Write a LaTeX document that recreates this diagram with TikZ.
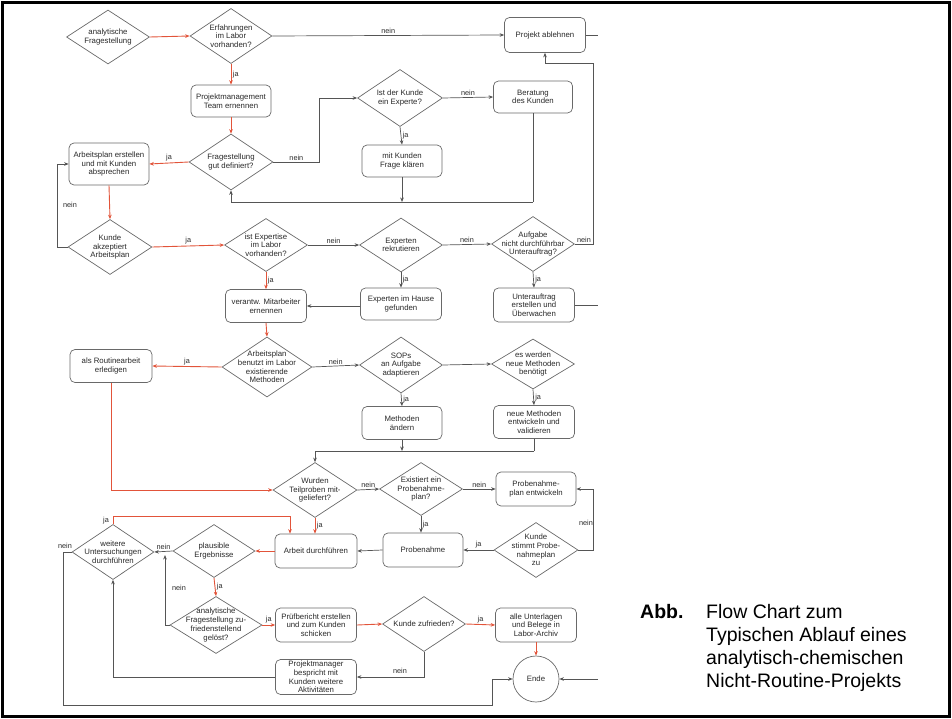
\documentclass[tikz,border=0pt]{standalone}
\usepackage{fontspec}
\setmainfont{Liberation Sans}
\usetikzlibrary{shapes.geometric,arrows.meta}
\definecolor{fred}{RGB}{226,84,58}
\definecolor{lc}{RGB}{85,85,85}
\definecolor{bc}{RGB}{105,105,105}
\definecolor{tc}{RGB}{40,40,40}
\newcommand\fs{\fontsize{7.8}{8.7}\selectfont}
\newcommand\lf{\fontsize{7.3}{8}\selectfont}
\newcommand\capf{\fontsize{19.5}{23}\selectfont}
\newcommand\dn[6]{\node[dia, minimum width=#4pt, minimum height=#5pt, label={[dtxt]center:{#6}}] (#1) at (#2,#3) {};}
\begin{document}
\begin{tikzpicture}[x=1pt,y=-1pt,
 >={Stealth[length=4.5pt,width=3.6pt]},
 box/.style={draw=bc, line width=0.7pt, rounded corners=5pt, minimum width=81pt, minimum height=34pt, inner sep=1pt, align=center, font=\fs, text=tc},
 dia/.style={diamond, draw=bc, line width=0.7pt, inner sep=0pt},
 dtxt/.style={align=center, font=\fs, inner sep=0pt, text=tc},
 rl/.style={draw=fred, line width=0.9pt},
 bl/.style={draw=lc, line width=0.7pt},
 lab/.style={font=\lf, inner sep=1.5pt, text=tc},
]
\useasboundingbox (0,0) rectangle (952,719);
\draw[line width=3pt] (2.5,2.5) rectangle (949.5,716.5);

% diamonds
\dn{d1}{108}{37}{83}{54}{analytische\\Fragestellung}
\dn{d2}{231}{36}{82}{55}{Erfahrungen\\im Labor\\vorhanden?}
\dn{d3}{231}{162}{84}{56}{Fragestellung\\gut definiert?}
\dn{d4}{400}{98}{85}{57}{Ist der Kunde\\ein Experte?}
\dn{d5}{110}{247}{84}{55}{Kunde\\akzeptiert\\Arbeitsplan}
\dn{d6}{266}{245}{83}{53}{ist Expertise\\im Labor\\vorhanden?}
\dn{d7}{401}{245}{83}{54}{Experten\\rekrutieren}
\dn{d8}{533}{244}{83}{55}{Aufgabe\\nicht durchführbar\\Unterauftrag?}
\dn{d9}{267}{367}{90}{60}{Arbeitsplan\\benutzt im Labor\\existierende\\Methoden}
\dn{d10}{401}{365}{83}{56}{SOPs\\an Aufgabe\\adaptieren}
\dn{d11}{533}{364}{83}{50}{es werden\\neue Methoden\\benötigt}
\dn{d12}{315}{490}{84}{55}{Wurden\\Teilproben mit-\\geliefert?}
\dn{d13}{421}{489}{83}{53}{Existiert ein\\Probenahme-\\plan?}
\dn{d14}{536}{550}{84}{55}{Kunde\\stimmt Probe-\\nahmeplan\\zu}
\dn{d15}{214}{551}{82}{53}{plausible\\Ergebnisse}
\dn{d16}{113}{552}{82}{55}{weitere\\Untersuchungen\\durchführen}
\dn{d17}{216}{625}{92}{57}{analytische\\Fragestellung zu-\\friedenstellend\\gelöst?}
\dn{d18}{424}{624}{83}{55}{Kunde zufrieden?}

% boxes
\node[box, minimum height=35pt] (b1) at (545,35) {Projekt ablehnen};
\node[box, minimum width=80pt, minimum height=32pt] (b2) at (231,101) {Projektmanagement\\Team ernennen};
\node[box, minimum width=80pt, minimum height=42pt] (b3) at (109,164) {Arbeitsplan erstellen\\und mit Kunden\\absprechen};
\node[box, minimum width=79pt, minimum height=32pt] (b4) at (533,97) {Beratung\\des Kunden};
\node[box, minimum width=80pt, minimum height=32pt] (b5) at (402,161) {mit Kunden\\Frage klären};
\node[box, minimum height=32pt] (b6) at (401,304) {Experten im Hause\\gefunden};
\node[box] (b7) at (534,305) {Unterauftrag\\erstellen und\\Überwachen};
\node[box, minimum height=33pt] (b8) at (266,306) {verantw. Mitarbeiter\\ernennen};
\node[box, minimum width=82pt, minimum height=33pt] (b9) at (111,366) {als Routinearbeit\\erledigen};
\node[box, minimum width=80pt, minimum height=33pt] (b10) at (402,423) {Methoden\\ändern};
\node[box, minimum height=33pt] (b11) at (534,422) {neue Methoden\\entwickeln und\\validieren};
\node[box, minimum width=80pt] (b12) at (536,489) {Probenahme-\\plan entwickeln};
\node[box, minimum width=80pt] (b13) at (423,550) {Probenahme};
\node[box, minimum width=82pt] (b14) at (316,551) {Arbeit durchführen};
\node[box] (b15) at (316,625) {Prüfbericht erstellen\\und zum Kunden\\schicken};
\node[box] (b16) at (536,625) {alle Unterlagen\\und Belege in\\Labor-Archiv};
\node[box, minimum height=35pt] (b17) at (316,677) {Projektmanager\\bespricht mit\\Kunden weitere\\Aktivitäten};
\node[circle, draw=bc, line width=0.7pt, minimum size=46pt, inner sep=0pt, font=\fs, text=tc] (ende) at (536,679) {Ende};

% helper coordinates
\coordinate (j1) at (533,202);
\coordinate (j2) at (534,451);
\coordinate (j3) at (290,516);
\coordinate (j4) at (165,555);
\coordinate (j5) at (63,705);
\coordinate (j6) at (492,705);
\coordinate (r1) at (593,244);
\coordinate (r2) at (593,63);
\coordinate (s1) at (598,35);

% red connectors
\draw[rl,->] (d1.east) -- (d2.west);
\draw[rl,->] (d2.south) -- node[lab,right]{ja} (b2.north);
\draw[rl,->] (b2.south) -- (d3.north);
\draw[rl,->] (d3.west) -- node[lab,above]{ja} (b3.east);
\draw[rl,->] (b3.south) -- (d5.north);
\draw[rl,->] (d5.east) -- node[lab,above]{ja} (d6.west);
\draw[rl,->] (d6.south) -- node[lab,right]{ja} (b8.north);
\draw[rl,->] (b8.south) -- (d9.north);
\draw[rl,->] (d9.west) -- node[lab,above]{ja} (b9.east);
\draw[rl,->] (b9.south) |- (d12.west);
\draw[rl,->] (d12.south) -- node[lab,right]{ja} (d12.south |- b14.north);
\draw[rl,->] (d16.north) |- (j3) -- (j3 |- b14.north);
\draw[rl,->] (b14.west) -- (d15.east);
\draw[rl,->] (d15.south) -- node[lab,right]{ja} (d17.north);
\draw[rl,->] (d17.east) -- node[lab,above]{ja} (b15.west);
\draw[rl,->] (b15.east) -- (d18.west);
\draw[rl,->] (d18.east) -- node[lab,above]{ja} (b16.west);
\draw[rl,->] (b16.south) -- (ende.north);

% black connectors
\draw[bl,->] (d2.east) -- node[lab,above]{nein} (b1.west);
\draw[bl,->] (d3.east) -- node[lab,above]{nein} ++(46,0) |- (d4.west);
\draw[bl,->] (d4.east) -- node[lab,above]{nein} (b4.west);
\draw[bl,->] (d4.south) -- node[lab,right]{ja} (b5.north);
\draw[bl] (b4.south) -- (j1);
\draw[bl,->] (j1) -| (d3.south);
\draw[bl,->] (b5.south) -- (b5.south |- j1);
\draw[bl,->] (d5.west) -- ++(-10,0) |- (b3.west);
\draw[bl,->] (d6.east) -- node[lab,above]{nein} (d7.west);
\draw[bl,->] (d7.east) -- node[lab,above]{nein} (d8.west);
\draw[bl,->] (d7.south) -- node[lab,right]{ja} (b6.north);
\draw[bl,->] (d8.south) -- node[lab,right]{ja} (b7.north);
\draw[bl,->] (b6.west |- b8.east) -- (b8.east);
\draw[bl,->] (d8.east) -- node[lab,above]{nein} (r1) -- (r2) -| (b1.south);
\draw[bl] (b1.east) -- (b1.east -| s1);
\draw[bl] (b7.east) -- (b7.east -| s1);
\draw[bl,->] (d9.east) -- node[lab,above]{nein} (d10.west);
\draw[bl,->] (d10.east) -- (d11.west);
\draw[bl,->] (d10.south) -- node[lab,right]{ja} (b10.north);
\draw[bl,->] (d11.south) -- node[lab,right]{ja} (b11.north);
\draw[bl] (b11.south) -- (j2);
\draw[bl,->] (j2) -| (d12.north);
\draw[bl,->] (b10.south) -- (b10.south |- j2);
\draw[bl,->] (d12.east) -- node[lab,above]{nein} (d13.west);
\draw[bl,->] (d13.east) -- node[lab,above]{nein} (b12.west);
\draw[bl,->] (d13.south) -- node[lab,right]{ja} (d13.south |- b13.north);
\draw[bl,->] (d14.west) -- node[lab,above]{ja} (b13.east);
\draw[bl,->] (d14.east) -- (d14.east -| r1) |- (b12.east);
\draw[bl,->] (b13.west) -- (b14.east);
\draw[bl,->] (d15.west) -- node[lab,above]{nein} (d16.east);
\draw[bl,->] (d17.west) -| (j4);
\draw[bl,->] (d18.south) |- (b17.east);
\draw[bl,->] (b17.west) -| (d16.south);
\draw[bl,->] (d16.west) -| (j5) -- (j6) |- (ende.west);
\draw[bl,->] (ende.east -| s1) -- (ende.east);

% free labels
\node[lab] (l1) at (70,205) {nein};
\node[lab] (l2) at (586,523) {nein};
\node[lab] (l3) at (106,521) {ja};
\node[lab] (l4) at (65,546) {nein};
\node[lab] (l5) at (179,588) {nein};
\node[lab] (l6) at (400,671) {nein};

% caption
\node[anchor=base west, inner sep=0pt, font=\capf\bfseries] (abb) at (640,618) {Abb.};
\node[anchor=base west, inner sep=0pt, font=\capf] (c1) at (706,618) {Flow Chart zum};
\node[anchor=base west, inner sep=0pt, font=\capf] (c2) at (706,641) {Typischen Ablauf eines};
\node[anchor=base west, inner sep=0pt, font=\capf] (c3) at (706,664) {analytisch-chemischen};
\node[anchor=base west, inner sep=0pt, font=\capf] (c4) at (706,687) {Nicht-Routine-Projekts};
\end{tikzpicture}
\end{document}
